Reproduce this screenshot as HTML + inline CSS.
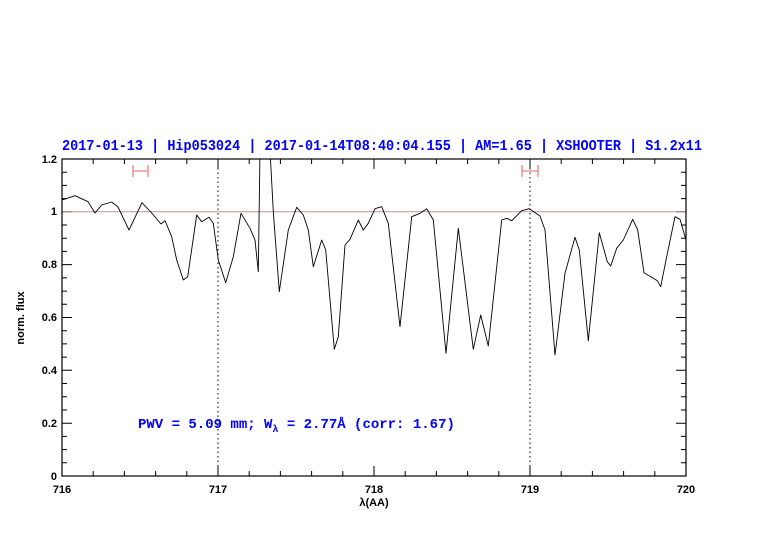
<!DOCTYPE html>
<html><head><meta charset="utf-8"><style>
html,body{margin:0;padding:0;background:#fff;}
svg{display:block;}
.s{font-family:"Liberation Sans",sans-serif;}
.m{font-family:"Liberation Mono",monospace;font-weight:bold;}
</style></head><body>
<svg width="782" height="542" viewBox="0 0 782 542" xmlns="http://www.w3.org/2000/svg">
<rect width="782" height="542" fill="#fff"/>
<text class="m" x="62" y="150" fill="#0000ff" font-size="14.5" textLength="640" lengthAdjust="spacingAndGlyphs">2017-01-13 | Hip053024 | 2017-01-14T08:40:04.155 | AM=1.65 | XSHOOTER | S1.2x11</text>
<path stroke="#000" stroke-width="1" fill="none" d="M62 476v-10M62 159v10M93.2 476v-5M93.2 159v5M124.4 476v-5M124.4 159v5M155.6 476v-5M155.6 159v5M186.8 476v-5M186.8 159v5M218 476v-10M218 159v10M249.2 476v-5M249.2 159v5M280.4 476v-5M280.4 159v5M311.6 476v-5M311.6 159v5M342.8 476v-5M342.8 159v5M374 476v-10M374 159v10M405.2 476v-5M405.2 159v5M436.4 476v-5M436.4 159v5M467.6 476v-5M467.6 159v5M498.8 476v-5M498.8 159v5M530 476v-10M530 159v10M561.2 476v-5M561.2 159v5M592.4 476v-5M592.4 159v5M623.6 476v-5M623.6 159v5M654.8 476v-5M654.8 159v5M686 476v-10M686 159v10
M62 462.8h5M686 462.8h-5M62 449.6h5M686 449.6h-5M62 436.4h5M686 436.4h-5M62 423.2h10M686 423.2h-10M62 410h5M686 410h-5M62 396.7h5M686 396.7h-5M62 383.5h5M686 383.5h-5M62 370.3h10M686 370.3h-10M62 357.1h5M686 357.1h-5M62 343.9h5M686 343.9h-5M62 330.7h5M686 330.7h-5M62 317.5h10M686 317.5h-10M62 304.3h5M686 304.3h-5M62 291.1h5M686 291.1h-5M62 277.9h5M686 277.9h-5M62 264.6h10M686 264.6h-10M62 251.4h5M686 251.4h-5M62 238.2h5M686 238.2h-5M62 225h5M686 225h-5M62 211.8h10M686 211.8h-10M62 198.6h5M686 198.6h-5M62 185.4h5M686 185.4h-5M62 172.2h5M686 172.2h-5"/>
<line x1="62" y1="211.8" x2="686" y2="211.8" stroke="#c89090" stroke-width="1"/>
<line x1="218" y1="159" x2="218" y2="476" stroke="#000" stroke-dasharray="1.5,3" stroke-width="1"/>
<line x1="530" y1="159" x2="530" y2="476" stroke="#000" stroke-dasharray="1.5,3" stroke-width="1"/>
<g stroke="#f08080" stroke-width="1.3" fill="none">
<path d="M133 171H148M133 165V177M148 165V177"/>
<path d="M522 171H538M522 165V177M538 165V177"/>
</g>
<clipPath id="c"><rect x="62" y="159" width="624" height="317"/></clipPath>
<polyline clip-path="url(#c)" fill="none" stroke="#000" stroke-width="0.9" stroke-linejoin="round" points="62,200 75,195.7 88,201.7 95,213 101.7,205 111.7,202 118,207 129,230 142,202.7 151.7,213 161,224 165,220.7 171.7,236.7 176.7,260 183.3,280 187.7,276.7 196.7,215 201.7,221.7 209,217.3 213.3,223.3 218.3,260 225.7,282.7 233.3,256.7 241,213.3 250,228.3 255,240 258.3,271.7 260,150 270,150 273.3,211.7 279.3,291.7 288.3,230 296.7,207.3 303.3,215 308.3,230 313.3,266.7 321.7,240 325.7,250 334.3,349.3 338.3,336.7 345,245 350,239.3 358.3,220 363.3,230 368.3,223.3 375,208.7 381.7,206.7 388.3,223.3 400,326.7 411.7,216.7 420,213.3 426.7,208.7 433.3,220 446,353.3 458.3,228.3 473.3,349.3 480.7,315 488.3,346 501.7,220 506.7,218.3 511.7,220.7 521.7,210.7 529.3,208.7 540,216 545,230 555,355 565,273.3 575,237.3 579.3,250 588.3,340.7 599.3,232.7 607.3,261.7 610.7,266 616.7,248.3 623.3,240 632.7,219.3 637.7,230 644,272.7 651.7,277.3 657.3,280.7 660.7,286.7 666.7,256.7 675,216.7 680,219.3 686,240"/>
<rect x="62" y="159" width="624" height="317" fill="none" stroke="#000" stroke-width="1.2"/>
<g class="s" font-size="11" fill="#000" font-weight="bold" text-anchor="end">
<text x="57" y="480">0</text><text x="57" y="427">0.2</text><text x="57" y="374">0.4</text><text x="57" y="321">0.6</text><text x="57" y="268">0.8</text><text x="57" y="215">1</text><text x="57" y="163">1.2</text>
</g>
<g class="s" font-size="11" fill="#000" font-weight="bold" text-anchor="middle">
<text x="62" y="493">716</text><text x="218" y="493">717</text><text x="374" y="493">718</text><text x="530" y="493">719</text><text x="686" y="493">720</text>
<text x="374" y="506">λ(AA)</text>
</g>
<text class="s" transform="translate(24,318) rotate(-90)" font-size="11" font-weight="bold" text-anchor="middle">norm. flux</text>
<text class="m" x="138" y="428" fill="#0000ff" font-size="14" xml:space="preserve">PWV = 5.09 mm; W<tspan font-size="10" dy="4">λ</tspan><tspan dy="-4"> = 2.77Å (corr: 1.67)</tspan></text>
</svg>
</body></html>
